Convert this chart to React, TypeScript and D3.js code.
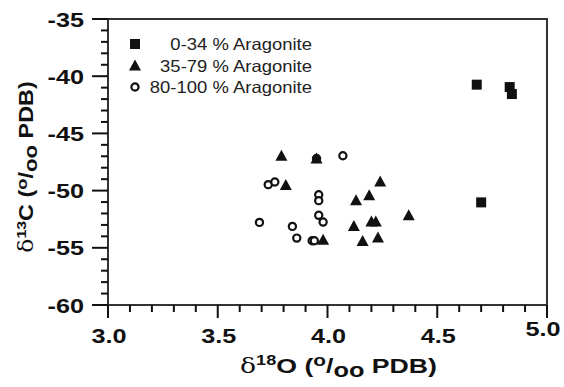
import React from "react";
import * as d3 from "d3";

// d18O, d13C pairs
const lowAragoniteX = [4.68, 4.83, 4.84, 4.7];
const lowAragoniteY = [-40.74, -40.95, -41.56, -51.03];

const midAragoniteX = [3.79, 3.95, 3.81, 4.24, 4.19, 4.13, 4.37, 4.12, 4.2, 4.22, 4.16, 4.23, 3.98];
const midAragoniteY = [-47.0, -47.24, -49.55, -49.25, -50.45, -50.88, -52.19, -53.13, -52.75, -52.75, -54.44, -54.15, -54.35];

const highAragoniteX = [4.07, 3.95, 3.73, 3.76, 3.96, 3.96, 3.96, 3.98, 3.69, 3.84, 3.86, 3.93, 3.94];
const highAragoniteY = [-46.95, -47.2, -49.48, -49.25, -50.36, -50.88, -52.16, -52.75, -52.78, -53.13, -54.15, -54.38, -54.38];

const legendLabels = ["0-34 % Aragonite", "35-79 % Aragonite", "80-100 % Aragonite"];
const xTicks = [3.0, 3.5, 4.0, 4.5, 5.0];
const yTicks = [-35, -40, -45, -50, -55, -60];

const W = 564;
const H = 387;
const margin = { left: 108, right: 17, top: 19, bottom: 82 };

const x = d3.scaleLinear().domain([3, 5]).range([margin.left, W - margin.right]);
const y = d3.scaleLinear().domain([-60, -35]).range([H - margin.bottom, margin.top]);

const font = "'Liberation Sans', Arial, sans-serif";
const ink = "#111";

// the original text is a little wider than it is tall
const Wide = ({ tx, ty, sx = 1.2, rot = 0, children }: any) => (
  <g transform={`translate(${tx},${ty}) rotate(${rot}) scale(${sx},1)`}>{children}</g>
);

const Square = ({ cx, cy }: { cx: number; cy: number }) => (
  <rect x={cx - 5} y={cy - 5} width={10} height={10} fill={ink} />
);
const Triangle = ({ cx, cy }: { cx: number; cy: number }) => (
  <path d={`M${cx},${cy - 6.5} L${cx + 6},${cy + 4.5} L${cx - 6},${cy + 4.5} Z`} fill={ink} />
);
const Circle = ({ cx, cy }: { cx: number; cy: number }) => (
  <circle cx={cx} cy={cy} r={3.6} fill="#fff" stroke={ink} strokeWidth={2.2} />
);

const Title = ({ iso, el, size }: { iso: string; el: string; size: number }) => (
  <text x={0} y={0} textAnchor="middle" fontFamily={font} fontWeight="bold" fontSize={size} fill={ink}>
    <tspan fontFamily="'DejaVu Serif', serif" fontWeight="normal">δ</tspan>
    <tspan fontSize={size * 0.68} dy={-size * 0.38}>{iso}</tspan>
    <tspan dy={size * 0.38}>{el} (</tspan>
    <tspan fontSize={size * 0.78} dy={-size * 0.33}>o</tspan>
    <tspan dy={size * 0.33}>/</tspan>
    <tspan fontSize={size * 0.95} dy={size * 0.2}>oo</tspan>
    <tspan dy={-size * 0.2}> PDB)</tspan>
  </text>
);

export default function App() {
  const xMinor = d3.range(30, 51).map((d) => d / 10);
  const yMinor = d3.range(-60, -34);
  const x0 = x(3);
  const y0 = y(-60);

  return (
    <svg width={W} height={H} style={{ position: "absolute", left: 0, top: 0, background: "#fff" }}>
      {/* frame */}
      <rect x={x(3)} y={y(-35)} width={x(5) - x(3)} height={y(-60) - y(-35)} fill="none" stroke="#333" strokeWidth={2} />

      {/* y ticks */}
      {yMinor.map((d) => {
        const major = d % 5 === 0;
        return <line key={"ym" + d} x1={x0} x2={x0 - (major ? 16 : 7)} y1={y(d)} y2={y(d)} stroke={ink} strokeWidth={2} />;
      })}
      {yTicks.map((d) => (
        <Wide key={"yt" + d} tx={84} ty={y(d) + 7.5}>
          <text textAnchor="end" fontFamily={font} fontWeight="bold" fontSize={21} fill={ink}>
            {d}
          </text>
        </Wide>
      ))}

      {/* x ticks */}
      {xMinor.map((d, i) => {
        const major = i % 5 === 0;
        return <line key={"xm" + i} x1={x(d)} x2={x(d)} y1={y0} y2={y0 + (major ? 13 : 7)} stroke={ink} strokeWidth={2} />;
      })}
      {xTicks.map((d, i) => {
        const last = i === xTicks.length - 1;
        return (
          <Wide key={"xt" + d} tx={x(d) + (last ? -4 : 1)} ty={last ? 336 : 343}>
            <text textAnchor="middle" fontFamily={font} fontWeight="bold" fontSize={21} fill={ink}>
              {d.toFixed(1)}
            </text>
          </Wide>
        );
      })}

      {/* axis titles */}
      <Wide tx={(x(3) + x(5)) / 2 + 11} ty={373} sx={1.27}>
        <Title iso="18" el="O" size={21} />
      </Wide>
      <Wide tx={33} ty={167} sx={1.2} rot={-90}>
        <Title iso="13" el="C" size={19.5} />
      </Wide>

      {/* points */}
      {highAragoniteX.map((d, i) => (
        <Circle key={"c" + i} cx={x(d)} cy={y(highAragoniteY[i])} />
      ))}
      {midAragoniteX.map((d, i) => (
        <Triangle key={"t" + i} cx={x(d)} cy={y(midAragoniteY[i])} />
      ))}
      {lowAragoniteX.map((d, i) => (
        <Square key={"s" + i} cx={x(d)} cy={y(lowAragoniteY[i])} />
      ))}

      {/* legend */}
      <Square cx={135} cy={44} />
      <Triangle cx={135} cy={66} />
      <Circle cx={135} cy={87} />
      {legendLabels.map((l, i) => (
        <Wide key={l} tx={312} ty={44 + i * 21.5 + 6} sx={1.12}>
          <text textAnchor="end" fontFamily={font} fontSize={16.5} fill="#222">
            {l}
          </text>
        </Wide>
      ))}
    </svg>
  );
}
